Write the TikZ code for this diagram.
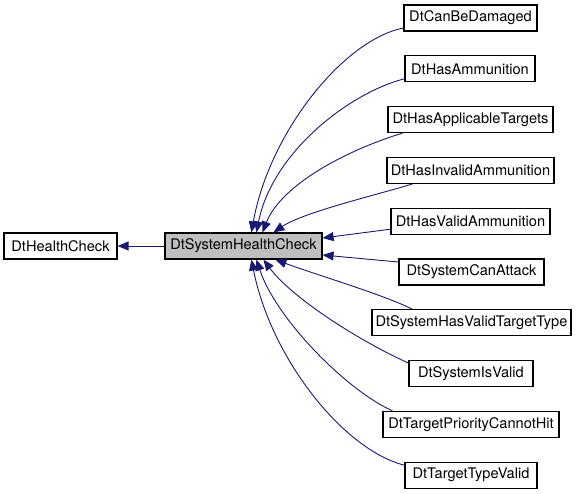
\documentclass[tikz,border=0pt]{standalone}
\usepackage{fontspec}
\setmainfont{TeX Gyre Heros}
\usetikzlibrary{arrows.meta}
\definecolor{edgeblue}{HTML}{191970}
\definecolor{boxgray}{HTML}{BFBFBF}
\begin{document}
\begin{tikzpicture}[x=1pt,y=-1pt,
  cls/.style={draw=black,line width=1.2pt,fill=white,minimum height=26pt,inner sep=0pt,
    font=\fontsize{14.6}{16}\selectfont},
  inh/.style={draw=edgeblue,line width=0.9pt,-{Triangle[length=11pt,width=9pt]}}]
\useasboundingbox (0,0) rectangle (576,493);
\node[cls,minimum width=113pt] (hc) at (60.5,246) {DtHealthCheck};
\node[cls,minimum width=157pt,fill=boxgray] (shc) at (243.5,246) {DtSystemHealthCheck};
\node[cls,minimum width=133pt] (c1) at (470.5,18) {DtCanBeDamaged};
\node[cls,minimum width=130pt] (c2) at (470,68.8) {DtHasAmmunition};
\node[cls,minimum width=165pt] (c3) at (470.5,119.6) {DtHasApplicableTargets};
\node[cls,minimum width=167pt] (c4) at (470.5,170.4) {DtHasInvalidAmmunition};
\node[cls,minimum width=159pt] (c5) at (470.5,221.2) {DtHasValidAmmunition};
\node[cls,minimum width=145pt] (c6) at (471.5,272) {DtSystemCanAttack};
\node[cls,minimum width=199pt] (c7) at (471.5,322.8) {DtSystemHasValidTargetType};
\node[cls,minimum width=124pt] (c8) at (471,373.6) {DtSystemIsValid};
\node[cls,minimum width=176pt] (c9) at (471,424.4) {DtTargetPriorityCannotHit};
\node[cls,minimum width=132pt] (c10) at (471,475.2) {DtTargetTypeValid};

\draw[inh] (shc.west) -- (hc.east);
\draw[inh] ([yshift=-10pt]c1.west) .. controls +(-60,12) and +(18,-100) .. ([xshift=87pt]shc.north west);
\draw[inh] ([yshift=-10pt]c2.west) .. controls +(-55,14) and +(16,-80) .. ([xshift=92pt]shc.north west);
\draw[inh] ([xshift=15pt]c3.south west) .. controls +(-50,15) and +(20,-50) .. ([xshift=98pt]shc.north west);
\draw[inh] ([xshift=26pt]c4.south west) .. controls +(-40,12) and +(30,-20) .. ([xshift=109pt]shc.north west);
\draw[inh] ([yshift=-8pt]c5.west) -- ([yshift=8pt]shc.east);
\draw[inh] ([yshift=10pt]c6.west) -- ([yshift=-9pt]shc.east);
\draw[inh] ([xshift=41pt]c7.north west) .. controls +(-30,-15) and +(40,15) .. ([xshift=111pt]shc.south west);
\draw[inh] ([yshift=-3pt]c8.north west) .. controls +(-45,-20) and +(30,40) .. ([xshift=99pt]shc.south west);
\draw[inh] ([xshift=10pt]c9.north west) .. controls +(-45,-20) and +(20,60) .. ([xshift=92pt]shc.south west);
\draw[inh] ([yshift=10pt]c10.west) .. controls +(-60,-15) and +(20,100) .. ([xshift=87pt]shc.south west);
\end{tikzpicture}
\end{document}
